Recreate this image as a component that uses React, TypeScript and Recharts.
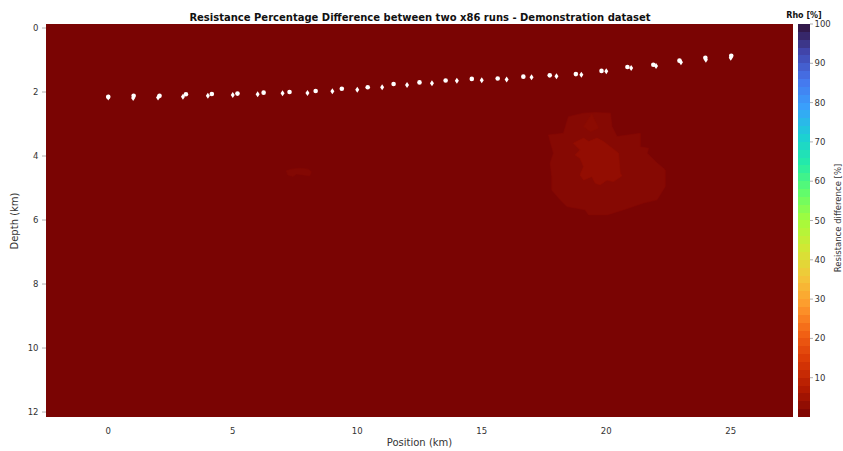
import React from 'react';
import { ComposedChart, BarChart, Bar, Scatter, XAxis, YAxis, CartesianGrid } from 'recharts';

const W = 843;
const H = 451;

// electrodes at whole-km positions along the profile, and their depths (km)
const electrodeX = [0, 1, 2, 3, 4, 5, 6, 7, 8, 9, 10, 11, 12, 13, 14, 15, 16, 17, 18, 19, 20, 21, 22, 23, 24, 25];
const electrodeDepth = [2.17, 2.19, 2.17, 2.15, 2.12, 2.09, 2.07, 2.04, 2.03, 1.98, 1.93, 1.85, 1.78, 1.73, 1.65, 1.63, 1.61, 1.54, 1.51, 1.46, 1.35, 1.25, 1.19, 1.07, 0.99, 0.93];

// receiver stations
const stationX = [0, 1.02, 2.06, 3.12, 4.16, 5.19, 6.24, 7.28, 8.33, 9.38, 10.42, 11.46, 12.5, 13.55, 14.6, 15.64, 16.67, 17.73, 18.78, 19.81, 20.85, 21.89, 22.94, 23.98, 25.02];
const stationDepth = [2.15, 2.12, 2.12, 2.07, 2.06, 2.05, 2.02, 2.0, 1.97, 1.9, 1.85, 1.75, 1.7, 1.64, 1.59, 1.58, 1.52, 1.48, 1.44, 1.34, 1.22, 1.15, 1.02, 0.93, 0.87];

const xTicks = [0, 5, 10, 15, 20, 25];
const depthTicks = [0, 2, 4, 6, 8, 10, 12];
const rhoTicks = [10, 20, 30, 40, 50, 60, 70, 80, 90, 100];

// resistance difference (%) of the background and of each anomaly patch
const backgroundRho = 0;
const outerRho = 1.6;
const innerRho = 3.2;
const spikeRho = 2.4;
const smallRho = 1.2;

// anomaly outlines (position km, depth km)
const outerX = [17.68, 18.28, 18.48, 19.09, 19.56, 20.17, 20.23, 20.43, 21.37, 21.37, 21.7, 21.64, 22.04, 22.37, 22.37, 22.04, 21.5, 20.7, 20.03, 19.29, 19.15, 18.42, 18.15, 17.81, 17.81, 17.75, 17.88, 17.75];
const outerDepth = [3.34, 3.29, 2.77, 2.66, 2.64, 2.66, 3.08, 3.39, 3.29, 3.71, 3.76, 3.91, 4.22, 4.43, 4.95, 5.37, 5.47, 5.68, 5.84, 5.84, 5.68, 5.58, 5.37, 5.06, 4.64, 4.22, 3.91, 3.55];

const innerX = [18.68, 19.09, 19.29, 19.63, 19.89, 20.16, 20.49, 20.56, 20.63, 20.29, 20.03, 19.76, 19.56, 19.42, 19.09, 18.95, 19.09, 18.95, 18.75, 18.95];
const innerDepth = [3.6, 3.44, 3.55, 3.44, 3.55, 3.71, 3.91, 4.54, 4.62, 4.8, 4.75, 4.9, 4.85, 4.64, 4.75, 4.59, 4.33, 4.07, 3.97, 3.81];

const spikeX = [19.09, 19.42, 19.69, 19.36];
const spikeDepth = [3.08, 2.69, 3.13, 3.24];

const smallX = [7.15, 7.35, 7.69, 8.02, 8.16, 8.09, 7.82, 7.55, 7.42, 7.21];
const smallDepth = [4.46, 4.41, 4.38, 4.41, 4.49, 4.62, 4.59, 4.56, 4.64, 4.59];

const toPoints = (xs: number[], ds: number[]) => xs.map((x, i) => ({ x, depth: ds[i] }));

// turbo colormap key colours, low to high
const turbo = ['#30123b', '#4145ab', '#4675ed', '#39a2fc', '#1bcfd4', '#24eca6', '#61fc6c', '#a4fc3b', '#d1e834', '#f3c63a', '#fe9b2d', '#f36315', '#d93806', '#b11901', '#7a0403'];

const hexRgb = (h: string) => [1, 3, 5].map((i) => parseInt(h.slice(i, i + 2), 16));

// reversed turbo: 100 % is dark purple, 0 % dark red
function rhoColor(v: number) {
  const t = 1 - Math.min(100, Math.max(0, v)) / 100;
  const pos = t * (turbo.length - 1);
  const i = Math.min(Math.floor(pos), turbo.length - 2);
  const f = pos - i;
  const a = hexRgb(turbo[i]);
  const b = hexRgb(turbo[i + 1]);
  const c = a.map((av, k) => Math.round(av + (b[k] - av) * f));
  return `rgb(${c[0]},${c[1]},${c[2]})`;
}

const BANDS = 50;

const noMarker = () => <g />;

const patch = (fill: string) => (props: any) => (
  <polygon
    points={(props.points || []).map((p: any) => `${p.x},${p.y}`).join(' ')}
    fill={fill}
    stroke={fill}
    strokeWidth={0.6}
  />
);

const dot = (p: any) => <circle cx={p.cx} cy={p.cy} r={2.3} fill="#ffffff" />;

const diamond = (p: any) => (
  <path d={`M${p.cx},${p.cy - 3}L${p.cx + 2},${p.cy}L${p.cx},${p.cy + 3}L${p.cx - 2},${p.cy}Z`} fill="#ffffff" />
);

const tickFont = { fontSize: 8.5, fill: '#333', fontFamily: 'DejaVu Sans' };
const tickLineStyle = { stroke: '#b0b0b0' };

export default function App() {
  const bandStops: React.ReactNode[] = [];
  for (let k = 0; k < BANDS; k++) {
    const col = rhoColor(100 - ((k + 0.5) * 100) / BANDS);
    bandStops.push(<stop key={`a${k}`} offset={k / BANDS} stopColor={col} />);
    bandStops.push(<stop key={`b${k}`} offset={(k + 1) / BANDS} stopColor={col} />);
  }

  return (
    <div style={{ position: 'absolute', left: 0, top: 0, width: W, height: H, background: '#fff', fontFamily: 'DejaVu Sans' }}>
      <div style={{ position: 'absolute', left: 0, top: 0 }}>
        <ComposedChart width={W} height={H} margin={{ top: 24, right: 50, bottom: 4, left: 0 }}>
          <CartesianGrid horizontal={false} vertical={false} stroke="none" fill={rhoColor(backgroundRho)} fillOpacity={1} />
          <XAxis
            type="number"
            dataKey="x"
            domain={[-2.5, 27.5]}
            ticks={xTicks}
            allowDataOverflow
            height={30}
            tickSize={4}
            tickMargin={6.5}
            tickLine={false}
            axisLine={false}
            tick={tickFont}
          />
          <XAxis
            xAxisId="top"
            orientation="top"
            type="number"
            domain={[-2.5, 27.5]}
            ticks={xTicks}
            allowDataOverflow
            height={0}
            tickSize={4}
            tick={false}
            axisLine={false}
            tickLine={tickLineStyle}
          />
          <YAxis
            type="number"
            dataKey="depth"
            reversed
            domain={[-0.125, 12.155]}
            ticks={depthTicks}
            allowDataOverflow
            width={46}
            tickSize={4}
            tickMargin={3.5}
            axisLine={false}
            tickLine={tickLineStyle}
            tick={tickFont}
          />
          <YAxis
            yAxisId="right"
            orientation="right"
            type="number"
            reversed
            domain={[-0.125, 12.155]}
            ticks={depthTicks}
            allowDataOverflow
            width={0}
            tickSize={3}
            tick={false}
            axisLine={{ stroke: '#d8d8d8' }}
            tickLine={tickLineStyle}
          />
          <Scatter data={toPoints(outerX, outerDepth)} shape={noMarker} line={patch(rhoColor(outerRho))} lineType="joint" isAnimationActive={false} />
          <Scatter data={toPoints(innerX, innerDepth)} shape={noMarker} line={patch(rhoColor(innerRho))} lineType="joint" isAnimationActive={false} />
          <Scatter data={toPoints(spikeX, spikeDepth)} shape={noMarker} line={patch(rhoColor(spikeRho))} lineType="joint" isAnimationActive={false} />
          <Scatter data={toPoints(smallX, smallDepth)} shape={noMarker} line={patch(rhoColor(smallRho))} lineType="joint" isAnimationActive={false} />
          <Scatter data={toPoints(electrodeX, electrodeDepth)} shape={diamond} isAnimationActive={false} />
          <Scatter data={toPoints(stationX, stationDepth)} shape={dot} isAnimationActive={false} />
        </ComposedChart>
      </div>

      {/* colour scale */}
      <div style={{ position: 'absolute', left: 0, top: 0 }}>
        <BarChart
          width={W}
          height={H}
          data={[{ name: 'rho', value: 100 }]}
          margin={{ top: 24, right: 3, bottom: 34, left: 798 }}
          barCategoryGap={0}
        >
          <defs>
            <linearGradient id="rhoScale" x1="0" y1="0" x2="0" y2="1">
              {bandStops}
            </linearGradient>
          </defs>
          <XAxis dataKey="name" hide height={0} />
          <YAxis
            orientation="right"
            type="number"
            domain={[0, 100]}
            ticks={rhoTicks}
            width={30}
            tickSize={3}
            tickMargin={1.5}
            axisLine={false}
            tickLine={tickLineStyle}
            tick={tickFont}
          />
          <Bar dataKey="value" fill="url(#rhoScale)" isAnimationActive={false} />
        </BarChart>
      </div>

      <svg width={W} height={H} style={{ position: 'absolute', left: 0, top: 0, pointerEvents: 'none' }}>
        <text x={420} y={20.7} textAnchor="middle" fontSize={10} fontWeight="bold" fill="#111">
          Resistance Percentage Difference between two x86 runs - Demonstration dataset
        </text>
        <text x={804} y={17.5} textAnchor="middle" fontSize={8} fontWeight="bold" fill="#111">
          Rho [%]
        </text>
        <text x={419.5} y={446} textAnchor="middle" fontSize={10} fill="#333">
          Position (km)
        </text>
        <text transform="translate(17.5,221) rotate(-90)" textAnchor="middle" fontSize={10} fill="#333">
          Depth (km)
        </text>
        <text transform="translate(841,218) rotate(-90)" textAnchor="middle" fontSize={8.5} fill="#333">
          Resistance difference [%]
        </text>
      </svg>
    </div>
  );
}
